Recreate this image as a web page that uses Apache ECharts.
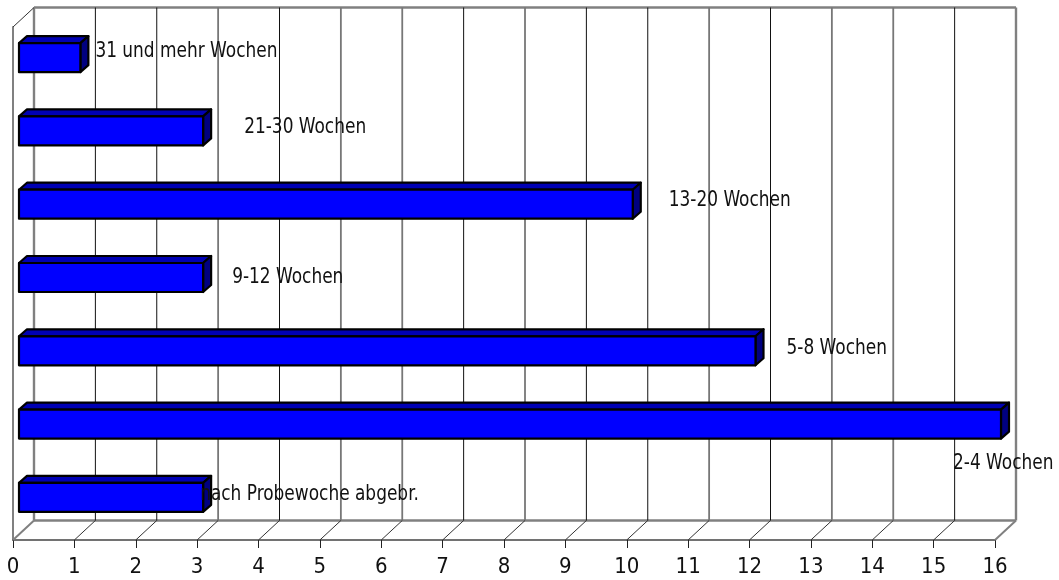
<!DOCTYPE html>
<html><head><meta charset="utf-8">
<style>html,body{margin:0;padding:0;background:#fff}#c{width:1059px;height:580px}</style>
<script src="https://cdn.jsdelivr.net/npm/echarts@6/dist/echarts.min.js"></script>
</head><body><div id="c"></div>
<script>
const categories = ["nach Probewoche abgebr.", "2-4 Wochen", "5-8 Wochen", "9-12 Wochen", "13-20 Wochen", "21-30 Wochen", "31 und mehr Wochen"];
const weeksValues = [3, 16, 12, 3, 10, 3, 1];
const tickValues = [0,1,2,3,4,5,6,7,8,9,10,11,12,13,14,15,16];

const FONT = '"DejaVu Sans Condensed","DejaVu Sans",sans-serif';
// label placement relative to the bar end (px), drawing only
const labelShift = {
  "nach Probewoche abgebr.": [-3, -3],
  "2-4 Wochen": [-48, 40],
  "5-8 Wochen": [31, -2],
  "9-12 Wochen": [29, 0],
  "13-20 Wochen": [36, -4],
  "21-30 Wochen": [41, -3],
  "31 und mehr Wochen": [15, -6]
};
const greyLines = [3, 5, 6, 8, 11, 13, 14];
const DEPTH = [21, -19.5], BAR_SHIFT = [6, -6], BAR_DEPTH = [8, -7], BAR_H = 29;

const chart = echarts.init(document.getElementById('c'), null, {renderer:'canvas'});
chart.setOption({
  animation:false, backgroundColor:'#fff',
  grid:{left:13, top:27, width:982, height:513, containLabel:false},
  xAxis:{type:'value', min:0, max:16, interval:1,
    axisLine:{show:true,lineStyle:{color:'#444',width:1.5}},
    axisTick:{show:true,length:8,lineStyle:{color:'#222',width:1}},
    axisLabel:{color:'#111',fontFamily:FONT,fontSize:22,margin:16,showMinLabel:true,showMaxLabel:true},
    splitLine:{show:false}},
  yAxis:{type:'category', data:categories,
    axisLine:{show:true,onZero:false,lineStyle:{color:'#808080',width:2}},
    axisTick:{show:false}, axisLabel:{show:false}, splitLine:{show:false}},
  series:[
    { // back wall, floor and side wall
      type:'custom', silent:true, z:1, data:tickValues,
      encode:{x:0},
      renderItem(p, api){
        const v = api.value(0);
        const a = api.coord([v, categories[0]]);
        const size = api.size([0,1]);
        const yBottom = a[1] + size[1]/2, yTop = yBottom - size[1]*categories.length;
        const x = a[0], bx = x + DEPTH[0], by = yBottom + DEPTH[1], ty = yTop + DEPTH[1];
        const edgeLine = v===0 || v===16;
        const grey = greyLines.includes(v);
        const els = [
          {type:'line',shape:{x1:bx,y1:by,x2:bx,y2:ty},style:{stroke:edgeLine?'#808080':(grey?'#777':'#111'),lineWidth:edgeLine?2.4:(grey?1.8:1)}},
          {type:'line',shape:{x1:x,y1:yBottom,x2:bx,y2:by},style:{stroke:edgeLine?'#808080':'#333',lineWidth:edgeLine?2:1}}
        ];
        if (v === 0) {
          els.push({type:'line',shape:{x1:x,y1:yTop,x2:bx,y2:ty},style:{stroke:'#333',lineWidth:1}});
          els.push({type:'line',shape:{x1:bx,y1:by,x2:bx+982,y2:by},style:{stroke:'#808080',lineWidth:2.4}});
          els.push({type:'line',shape:{x1:bx,y1:ty,x2:bx+982,y2:ty},style:{stroke:'#808080',lineWidth:2.4}});
        }
        return {type:'group',children:els};
      }
    },
    { // 3D bars
      type:'custom', z:3, data:weeksValues.map((v,i)=>[v,categories[i]]),
      encode:{x:0,y:1},
      renderItem(p, api){
        const v = api.value(0), cat = categories[p.dataIndex];
        const o = api.coord([0, cat]), e = api.coord([v, cat]);
        const x0 = o[0]+BAR_SHIFT[0], x1 = e[0]+BAR_SHIFT[0];
        const y0 = o[1]+BAR_SHIFT[1]-BAR_H/2, y1 = y0+BAR_H;
        const [dx,dy] = BAR_DEPTH;
        const edge = {stroke:'#000',lineWidth:2.2,lineJoin:'round'};
        return {type:'group',children:[
          {type:'polygon',shape:{points:[[x0,y0],[x0+dx,y0+dy],[x1+dx,y0+dy],[x1,y0]]},style:{fill:'#0000b4',...edge}},
          {type:'polygon',shape:{points:[[x1,y0],[x1+dx,y0+dy],[x1+dx,y1+dy],[x1,y1]]},style:{fill:'#000080',...edge}},
          {type:'rect',shape:{x:x0,y:y0,width:x1-x0,height:BAR_H},style:{fill:'#0000ff',...edge}}
        ]};
      }
    },
    { // category labels
      type:'custom', z:4, silent:true, data:weeksValues.map((v,i)=>[v,categories[i]]),
      encode:{x:0,y:1},
      renderItem(p, api){
        const cat = categories[p.dataIndex];
        const e = api.coord([api.value(0), cat]);
        const s = labelShift[cat];
        return {type:'text',z2:10,
          x:e[0]+BAR_SHIFT[0]+s[0], y:e[1]+BAR_SHIFT[1]+s[1], scaleX:0.92, originX:0, originY:0,
          style:{text:cat,x:0,y:0,fill:'#111',font:'20.5px '+FONT,textAlign:'left',textVerticalAlign:'middle'}};
      }
    }
  ]
});
</script></body></html>
